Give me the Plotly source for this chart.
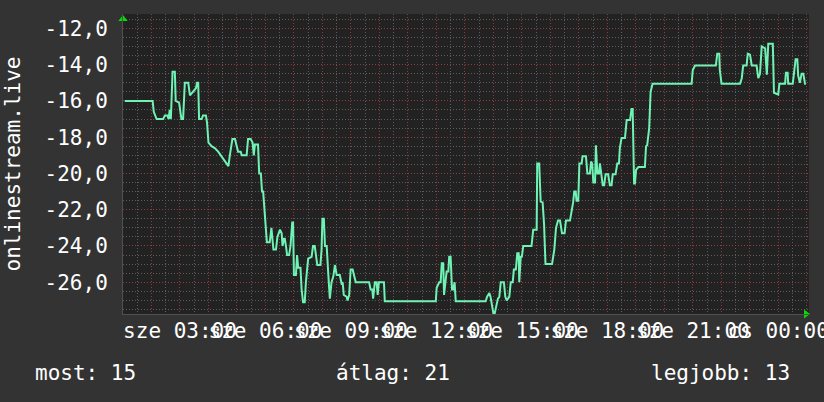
import plotly.graph_objects as go

# ---- data (hour of day since sze 00:00, rank value) ----
hours = [
    1.06, 2.04, 2.08, 2.18, 2.41, 2.47, 2.56, 2.60, 2.64, 2.68, 2.74, 2.82, 2.85, 2.97, 3.05, 3.11,
    3.17, 3.29, 3.35, 3.44, 3.56, 3.60, 3.64, 3.67, 3.76, 3.81, 3.91, 3.95, 4.00, 4.11, 4.22, 4.34,
    4.51, 4.63, 4.70, 4.75, 4.84, 4.93, 4.99, 5.04, 5.13, 5.17, 5.34, 5.39, 5.48, 5.55, 5.59, 5.63,
    5.74, 5.78, 5.84, 5.88, 5.92, 6.00, 6.05, 6.15, 6.21, 6.28, 6.37, 6.42, 6.47, 6.51, 6.57, 6.60,
    6.65, 6.68, 6.72, 6.76, 6.83, 6.88, 6.94, 6.97, 7.00, 7.07, 7.11, 7.15, 7.23, 7.27, 7.32, 7.38,
    7.42, 7.50, 7.62, 7.67, 7.73, 7.77, 7.82, 7.93, 7.97, 8.00, 8.05, 8.09, 8.15, 8.20, 8.26, 8.32,
    8.38, 8.44, 8.50, 8.61, 8.67, 8.71, 8.75, 8.85, 8.88, 8.94, 8.99, 9.06, 9.10, 9.17, 9.64, 9.69,
    9.75, 9.78, 9.84, 9.90, 9.94, 9.98, 10.16, 10.19, 11.98, 12.01, 12.10, 12.15, 12.19, 12.24, 12.27, 12.32,
    12.36, 12.42, 12.45, 12.50, 12.55, 12.59, 12.64, 12.68, 13.73, 13.78, 13.86, 13.90, 13.95, 14.00, 14.05, 14.11,
    14.16, 14.21, 14.26, 14.37, 14.42, 14.47, 14.56, 14.61, 14.68, 14.72, 14.79, 14.84, 14.89, 14.91, 14.96, 15.00,
    15.05, 15.34, 15.40, 15.52, 15.54, 15.61, 15.66, 15.73, 15.78, 15.83, 16.06, 16.14, 16.20, 16.27, 16.34, 16.41,
    16.50, 16.55, 16.69, 16.80, 16.84, 16.89, 16.92, 16.98, 17.02, 17.10, 17.13, 17.25, 17.30, 17.39, 17.43, 17.47,
    17.51, 17.57, 17.60, 17.65, 17.71, 17.74, 17.78, 17.84, 17.89, 17.94, 18.03, 18.09, 18.15, 18.19, 18.29, 18.35,
    18.41, 18.44, 18.50, 18.62, 18.68, 18.80, 18.85, 18.89, 18.94, 18.97, 19.01, 19.09, 19.32, 19.36, 19.40, 19.47,
    19.52, 19.59, 20.96, 21.00, 21.08, 21.81, 21.86, 21.93, 21.95, 22.01, 22.66, 22.72, 22.77, 22.89, 22.93, 23.01,
    23.07, 23.24, 23.30, 23.36, 23.42, 23.54, 23.60, 23.65, 23.81, 23.85, 24.00, 24.04, 24.24, 24.27, 24.33, 24.35,
    24.51, 24.55, 24.61, 24.67, 24.70, 24.76, 24.82, 24.88, 24.94, 24.97,
]
values = [
    -16.0, -16.0, -16.6, -17.0, -17.0, -16.8, -16.8, -17.0, -16.5, -17.0, -14.4, -14.4, -16.0, -16.1, -17.0, -17.0,
    -15.0, -15.0, -15.7, -15.5, -15.3, -15.0, -15.0, -17.0, -17.0, -16.8, -16.8, -17.2, -18.3, -18.5, -18.6, -18.8,
    -19.2, -19.5, -19.6, -19.0, -18.1, -18.1, -18.5, -18.8, -18.8, -19.0, -19.0, -18.1, -18.1, -18.3, -19.0, -18.4,
    -18.4, -20.0, -20.0, -21.0, -21.0, -22.8, -23.8, -23.8, -23.0, -24.2, -24.2, -23.5, -23.2, -23.1, -23.3, -24.0,
    -23.6, -23.6, -24.0, -24.5, -24.5, -24.0, -22.7, -22.7, -25.6, -25.6, -24.5, -25.2, -25.2, -26.4, -27.1, -27.1,
    -26.0, -24.7, -24.6, -24.0, -24.0, -24.6, -25.05, -25.05, -24.2, -22.5, -22.5, -24.0, -24.0, -25.4, -26.9, -26.0,
    -25.7, -25.05, -25.6, -25.6, -26.05, -26.0, -26.7, -26.8, -27.0, -26.7, -25.3, -25.3, -25.6, -26.0, -26.0, -26.4,
    -26.4, -26.9, -26.0, -26.0, -26.7, -26.0, -26.0, -27.05, -27.05, -26.3, -26.0, -26.0, -24.95, -24.95, -26.7, -26.0,
    -25.4, -25.4, -24.6, -24.6, -26.4, -26.4, -26.0, -27.05, -27.05, -26.8, -26.6, -26.8, -27.2, -27.7, -27.7, -27.3,
    -26.9, -26.8, -26.0, -26.0, -26.8, -27.0, -26.8, -26.0, -26.0, -25.3, -25.3, -24.4, -24.4, -26.0, -24.6, -24.6,
    -24.0, -24.0, -23.1, -23.1, -19.45, -19.45, -21.55, -21.6, -22.8, -25.0, -25.0, -24.2, -23.0, -22.6, -22.6, -23.3,
    -23.3, -22.6, -22.6, -21.6, -21.0, -21.0, -21.5, -21.5, -19.45, -19.45, -19.05, -19.05, -20.0, -20.0, -19.35, -19.45,
    -20.5, -20.5, -18.45, -20.0, -20.0, -19.45, -20.0, -20.65, -20.65, -20.05, -20.05, -20.65, -20.65, -20.05, -20.05, -19.45,
    -19.45, -18.6, -18.05, -18.05, -17.05, -17.05, -16.45, -16.45, -20.55, -20.55, -19.8, -19.65, -19.65, -18.5, -18.45, -17.5,
    -15.5, -15.05, -15.05, -14.3, -14.05, -14.05, -13.4, -13.4, -14.3, -15.05, -15.05, -14.75, -14.05, -14.05, -13.4, -13.45,
    -14.05, -14.05, -14.75, -14.5, -13.0, -13.1, -14.55, -12.85, -12.85, -15.55, -15.65, -15.05, -15.05, -14.45, -14.45, -15.05,
    -15.05, -14.6, -13.7, -13.7, -14.6, -15.0, -14.5, -14.5, -15.05, -15.05,
]

x_label_hours = [3, 6, 9, 12, 15, 18, 21, 24]
x_tick_labels = ["sze 03:00", "sze 06:00", "sze 09:00", "sze 12:00",
                 "sze 15:00", "sze 18:00", "sze 21:00", "cs 00:00"]
y_tick_values = [-26, -24, -22, -20, -18, -16, -14, -12]
y_tick_labels = ["-26,0", "-24,0", "-22,0", "-20,0", "-18,0", "-16,0", "-14,0", "-12,0"]
y_axis_title = "onlinestream.live"
summary_labels = ["most: 15", "átlag: 21", "legjobb: 13"]

x_range = [1.0, 25.08]
y_range = [-27.75, -11.21]

# ---- styling ----
FONT = "DejaVu Sans Mono"
PAPER = "#333333"
PLOT = "#222222"
LINE = "#6ff2b4"
MAJOR = "#8c3c3c"
MINOR = "#5c5c5c"
DASH = "1px,2px"
ARROW = "#00e000"
W, H = 824, 402

# every hour gets a major (red) grid line; only every 3rd hour is labelled
all_hours = list(range(int(x_range[0]) + 1, int(x_range[1]) + 1))
label_map = dict(zip(x_label_hours, x_tick_labels))
x_tickvals = all_hours
x_ticktext = [label_map.get(h, "") for h in all_hours]

fig = go.Figure()
fig.add_trace(go.Scatter(
    x=hours, y=values, mode="lines",
    line=dict(color=LINE, width=2),
    hoverinfo="skip", showlegend=False,
))

# axis arrows (rrdtool style): anchored on the axis corners, pushed outward by standoff
eps = 1e-6
fig.add_trace(go.Scatter(
    x=[x_range[0] + eps, x_range[1] - eps],
    y=[y_range[1] - eps, y_range[0] + eps],
    mode="markers",
    marker=dict(symbol="triangle-up", angle=[0, 90], standoff=[5, 3],
                size=8, color=ARROW, line=dict(width=0)),
    cliponaxis=False, hoverinfo="skip", showlegend=False,
))

fig.update_layout(
    width=W, height=H, autosize=False,
    paper_bgcolor=PAPER, plot_bgcolor=PLOT,
    margin=dict(l=123, r=15, t=14, b=88),
    font=dict(family=FONT, size=21, color="#ffffff"),
    showlegend=False,
    xaxis=dict(
        range=x_range, tickmode="array", tickvals=x_tickvals, ticktext=x_ticktext,
        tickangle=0, ticks="", ticklabelstandoff=-2, ticklabeloverflow="allow",
        automargin=False,
        showgrid=True, gridcolor=MAJOR, griddash=DASH, gridwidth=1,
        minor=dict(tick0=1, dtick=0.5, showgrid=True, gridcolor=MINOR, griddash=DASH, gridwidth=1),
        zeroline=False, showline=True, linecolor="#505050", linewidth=1,
        tickfont=dict(family=FONT, size=21, color="#ffffff"),
    ),
    yaxis=dict(
        range=y_range, tickmode="array", tickvals=y_tick_values, ticktext=y_tick_labels,
        ticks="", ticklabelstandoff=10, automargin=False,
        showgrid=True, gridcolor=MAJOR, griddash=DASH, gridwidth=1,
        minor=dict(tick0=-12, dtick=0.5, showgrid=True, gridcolor=MINOR, griddash=DASH, gridwidth=1),
        zeroline=False, showline=True, linecolor="#505050", linewidth=1,
        tickfont=dict(family=FONT, size=21, color="#ffffff"),
        title=dict(text=y_axis_title, standoff=18, font=dict(family=FONT, size=21, color="#ffffff")),
    ),
)

fig.add_annotation(text=summary_labels[0], xref="paper", yref="paper",
                   x=-0.131, y=-0.197, xanchor="left", yanchor="middle", showarrow=False)
fig.add_annotation(text=summary_labels[1], xref="paper", yref="paper",
                   x=0.3076, y=-0.197, xanchor="left", yanchor="middle", showarrow=False)
fig.add_annotation(text=summary_labels[2], xref="paper", yref="paper",
                   x=0.975, y=-0.197, xanchor="right", yanchor="middle", showarrow=False)

post = ("document.body.style.margin='0';document.body.style.overflow='hidden';"
        "Plotly.relayout('{plot_id}', {width: %d, height: %d});" % (W, H))
fig.write_html("out.html", config={"displayModeBar": False, "responsive": False},
               post_script=post)
